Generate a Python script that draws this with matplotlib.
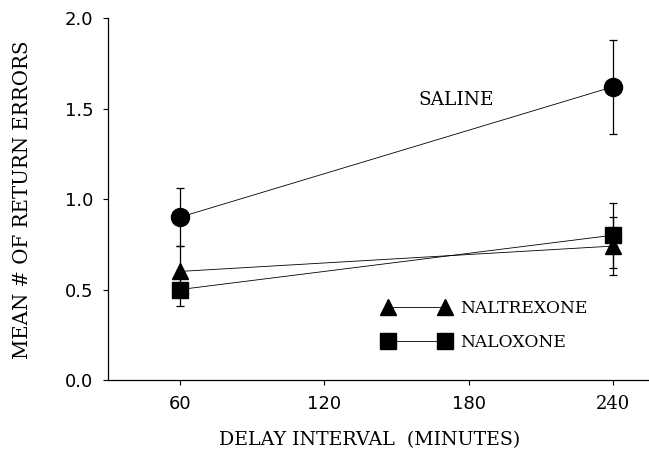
import matplotlib
matplotlib.use('Agg')
import matplotlib.pyplot as plt
from matplotlib.lines import Line2D

# Data
delay = [60, 240]
saline = [0.90, 1.62]
saline_err = [0.16, 0.26]
naltrexone = [0.60, 0.74]
naltrexone_err = [0.14, 0.16]
naloxone = [0.50, 0.80]
naloxone_err = [0.09, 0.18]

x_ticks = [60, 120, 180, 240]
y_ticks = [0.0, 0.5, 1.0, 1.5, 2.0]

serif = ['DejaVu Serif']
sans = ['DejaVu Sans']

fig = plt.figure(figsize=(6.49, 4.55), dpi=100)
ax = fig.add_axes([0.1664, 0.1648, 0.8336, 0.7956])

line_kw = dict(color='black', lw=0.6, ecolor='black', elinewidth=0.9,
               capsize=3, capthick=0.9)
ax.errorbar(delay, saline, yerr=saline_err, marker='o', ms=13, **line_kw)
ax.errorbar(delay, naltrexone, yerr=naltrexone_err, marker='^', ms=12, **line_kw)
ax.errorbar(delay, naloxone, yerr=naloxone_err, marker='s', ms=11, **line_kw)

ax.text(159, 1.52, 'SALINE', fontsize=13.3, family=serif)

# Legend
handles = [Line2D([], [], color='black', lw=0.6, marker='^', ms=12),
           Line2D([], [], color='black', lw=0.6, marker='s', ms=11)]
ax.legend(handles, ['NALTREXONE', 'NALOXONE'], numpoints=2, frameon=False,
          handlelength=3.88, handletextpad=0.59, labelspacing=1.0,
          prop={'family': serif, 'size': 12.3},
          loc='upper left', bbox_to_anchor=(0.567, 0.374),
          bbox_transform=fig.transFigure)

ax.set_xlim(30, 255)
ax.set_ylim(0, 2.0)
ax.set_xticks(x_ticks)
ax.set_yticks(y_ticks)
ax.set_yticklabels(['%.1f' % v for v in y_ticks])
for lab in ax.get_xticklabels() + ax.get_yticklabels():
    lab.set_family(sans)
    lab.set_fontsize(13)
ax.get_xticklabels()[-1].set_family(serif)
ax.tick_params(direction='out', length=3.6, width=0.8, pad=7)

ax.spines['top'].set_visible(False)
ax.spines['right'].set_visible(False)
ax.spines['left'].set_linewidth(0.9)
ax.spines['bottom'].set_linewidth(0.9)

fig.text(0.570, 0.033, 'DELAY INTERVAL  (MINUTES)', family=serif, fontsize=13.7,
         ha='center', va='center')
fig.text(0.034, 0.56, 'MEAN # OF RETURN ERRORS', family=serif, fontsize=14.2,
         ha='center', va='center', rotation=90)

fig.savefig('out.png', dpi=100)
